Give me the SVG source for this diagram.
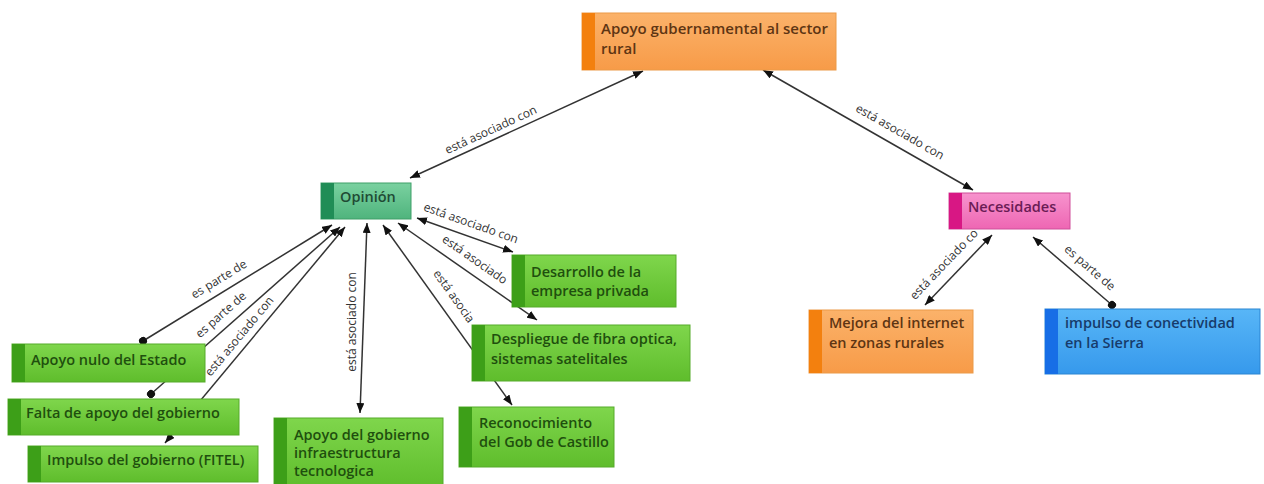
<svg xmlns="http://www.w3.org/2000/svg" width="1264" height="484" viewBox="0 0 1264 484">
<defs>
<linearGradient id="gOr" x1="0" y1="0" x2="0" y2="1"><stop offset="0" stop-color="#fbb26a"/><stop offset="1" stop-color="#f79b48"/></linearGradient>
<linearGradient id="gGr" x1="0" y1="0" x2="0" y2="1"><stop offset="0" stop-color="#7fd64c"/><stop offset="1" stop-color="#5fbd2c"/></linearGradient>
<linearGradient id="gOp" x1="0" y1="0" x2="0" y2="1"><stop offset="0" stop-color="#7ad1a0"/><stop offset="1" stop-color="#4fb47d"/></linearGradient>
<linearGradient id="gPk" x1="0" y1="0" x2="0" y2="1"><stop offset="0" stop-color="#f793cd"/><stop offset="1" stop-color="#ee66b3"/></linearGradient>
<linearGradient id="gBl" x1="0" y1="0" x2="0" y2="1"><stop offset="0" stop-color="#58b6f7"/><stop offset="1" stop-color="#3699ec"/></linearGradient>
<marker id="arr" viewBox="0 0 10 8" markerWidth="10" markerHeight="8" refX="10" refY="4" orient="auto-start-reverse" markerUnits="userSpaceOnUse"><path d="M0,0 L10,4 L0,8 z" fill="#111"/></marker>
<marker id="dot" viewBox="0 0 8 8" markerWidth="8" markerHeight="8" refX="4" refY="4" orient="auto" markerUnits="userSpaceOnUse"><circle cx="4" cy="4" r="4" fill="#111"/></marker>
</defs>
<style>
.ln{fill:none;stroke:#333;stroke-width:1.5}
.lb{font-family:"Open Sans","Liberation Sans",sans-serif;font-size:12px;fill:#333}
.nt{font-family:"Open Sans","Liberation Sans",sans-serif;font-size:14.5px;font-weight:600}
.big{font-size:15px}
.or rect.b{fill:url(#gOr);stroke:#eb9a48;stroke-width:1}
.or rect.s{fill:#f3800e}
.or text{fill:#5e3513}
.gr rect.b{fill:url(#gGr);stroke:#56ab2a;stroke-width:1}
.gr rect.s{fill:#3d9f18}
.gr text{fill:#1f4f0e}
.op rect.b{fill:url(#gOp);stroke:#3f9f68;stroke-width:1}
.op rect.s{fill:#208d56}
.op text{fill:#1f4a34}
.pk rect.b{fill:url(#gPk);stroke:#cf4f9a;stroke-width:1}
.pk rect.s{fill:#d81784}
.pk text{fill:#6a1c55}
.bl rect.b{fill:url(#gBl);stroke:#2b85d2;stroke-width:1}
.bl rect.s{fill:#176ee6}
.bl text{fill:#173b6b}
</style>
<g id="connectors">
<path class="ln" d="M643,71 L410,178" marker-start="url(#arr)" marker-end="url(#arr)"/>
<path class="ln" d="M763,70 L973,190" marker-start="url(#arr)" marker-end="url(#arr)"/>
<path class="ln" d="M417,218 L513,252" marker-start="url(#arr)" marker-end="url(#arr)"/>
<path class="ln" d="M398,223 L537,320" marker-start="url(#arr)" marker-end="url(#arr)"/>
<path class="ln" d="M383,225 L512,405" marker-start="url(#arr)" marker-end="url(#arr)"/>
<path class="ln" d="M367,223 L360,413" marker-start="url(#arr)" marker-end="url(#arr)"/>
<path class="ln" d="M143,341 L332,225" marker-start="url(#dot)" marker-end="url(#arr)"/>
<path class="ln" d="M151,394 L340,227" marker-start="url(#dot)" marker-end="url(#arr)"/>
<path class="ln" d="M345,227 L165,443" marker-start="url(#arr)" marker-end="url(#arr)"/>
<path class="ln" d="M925,305 L992,235" marker-start="url(#arr)" marker-end="url(#arr)"/>
<path class="ln" d="M1112,305 L1033,237" marker-start="url(#dot)" marker-end="url(#arr)"/>
<text class="lb" text-anchor="middle" transform="translate(495,139) rotate(-24.7)" y="-6">está asociado con</text>
<text class="lb" text-anchor="middle" transform="translate(893,144) rotate(29.7)" y="-10">está asociado con</text>
<text class="lb" text-anchor="middle" transform="translate(466.6,235.4) rotate(19.5)" y="-9">está asociado con</text>
<text class="lb" text-anchor="middle" transform="translate(466.7,271) rotate(34.9)" y="-10">está asociado</text>
<text class="lb" text-anchor="middle" transform="translate(440.8,305.5) rotate(54.4)" y="-12">está asocia</text>
<text class="lb" text-anchor="middle" transform="translate(362,322) rotate(-90)" y="-6">está asociado con</text>
<text class="lb" text-anchor="middle" transform="translate(225.8,290.2) rotate(-31.5)" y="-9">es parte de</text>
<text class="lb" text-anchor="middle" transform="translate(229.4,324.5) rotate(-41.5)" y="-9">es parte de</text>
<text class="lb" text-anchor="middle" transform="translate(247.7,343.3) rotate(-50.1)" y="-7">está asociado con</text>
<text class="lb" text-anchor="middle" transform="translate(954,274) rotate(-46.3)" y="-10">está asociado co</text>
<text class="lb" text-anchor="middle" transform="translate(1081,278) rotate(40.7)" y="-9.5">es parte de</text>
</g>
<g id="n-apoyo-gubernamental" class="or"><rect class="b" x="582" y="13" width="254" height="57"/><rect class="s" x="582" y="13" width="13" height="57"/><text class="nt big" x="601" y="34">Apoyo gubernamental al sector</text><text class="nt big" x="601" y="54">rural</text></g>
<g id="n-opinion" class="op"><rect class="b" x="321" y="183" width="90" height="36"/><rect class="s" x="321" y="183" width="13" height="36"/><text class="nt" x="340" y="202">Opinión</text></g>
<g id="n-necesidades" class="pk"><rect class="b" x="949" y="193" width="121" height="36"/><rect class="s" x="949" y="193" width="13" height="36"/><text class="nt" x="968" y="212">Necesidades</text></g>
<g id="n-desarrollo" class="gr"><rect class="b" x="512" y="255" width="164" height="52"/><rect class="s" x="512" y="255" width="13" height="52"/><text class="nt" x="531" y="277">Desarrollo de la</text><text class="nt" x="531" y="296">empresa privada</text></g>
<g id="n-despliegue" class="gr"><rect class="b" x="472" y="325" width="218" height="56"/><rect class="s" x="472" y="325" width="13" height="56"/><text class="nt" x="491" y="344">Despliegue de fibra optica,</text><text class="nt" x="491" y="364">sistemas satelitales</text></g>
<g id="n-reconocimiento" class="gr"><rect class="b" x="459" y="407" width="155" height="60"/><rect class="s" x="459" y="407" width="13" height="60"/><text class="nt" x="479" y="428">Reconocimiento</text><text class="nt" x="479" y="447">del Gob de Castillo</text></g>
<g id="n-apoyo-infra" class="gr"><rect class="b" x="274" y="418" width="169" height="70"/><rect class="s" x="274" y="418" width="13" height="70"/><text class="nt" x="294" y="440">Apoyo del gobierno</text><text class="nt" x="294" y="458">infraestructura</text><text class="nt" x="294" y="476">tecnologica</text></g>
<g id="n-apoyo-nulo" class="gr"><rect class="b" x="12" y="344" width="193" height="38"/><rect class="s" x="12" y="344" width="13" height="38"/><text class="nt" x="31" y="365">Apoyo nulo del Estado</text></g>
<g id="n-falta" class="gr"><rect class="b" x="8" y="399" width="231" height="36"/><rect class="s" x="8" y="399" width="13" height="36"/><text class="nt" x="26" y="418">Falta de apoyo del gobierno</text></g>
<g id="n-fitel" class="gr"><rect class="b" x="28" y="446" width="230" height="36"/><rect class="s" x="28" y="446" width="13" height="36"/><text class="nt" x="47" y="465">Impulso del gobierno (FITEL)</text></g>
<g id="n-mejora" class="or"><rect class="b" x="809" y="310" width="164" height="63"/><rect class="s" x="809" y="310" width="13" height="63"/><text class="nt" x="829" y="328">Mejora del internet</text><text class="nt" x="829" y="348">en zonas rurales</text></g>
<g id="n-impulso-sierra" class="bl"><rect class="b" x="1045" y="309" width="215" height="65"/><rect class="s" x="1045" y="309" width="13" height="65"/><text class="nt" x="1065" y="328">impulso de conectividad</text><text class="nt" x="1065" y="348">en la Sierra</text></g>
</svg>
